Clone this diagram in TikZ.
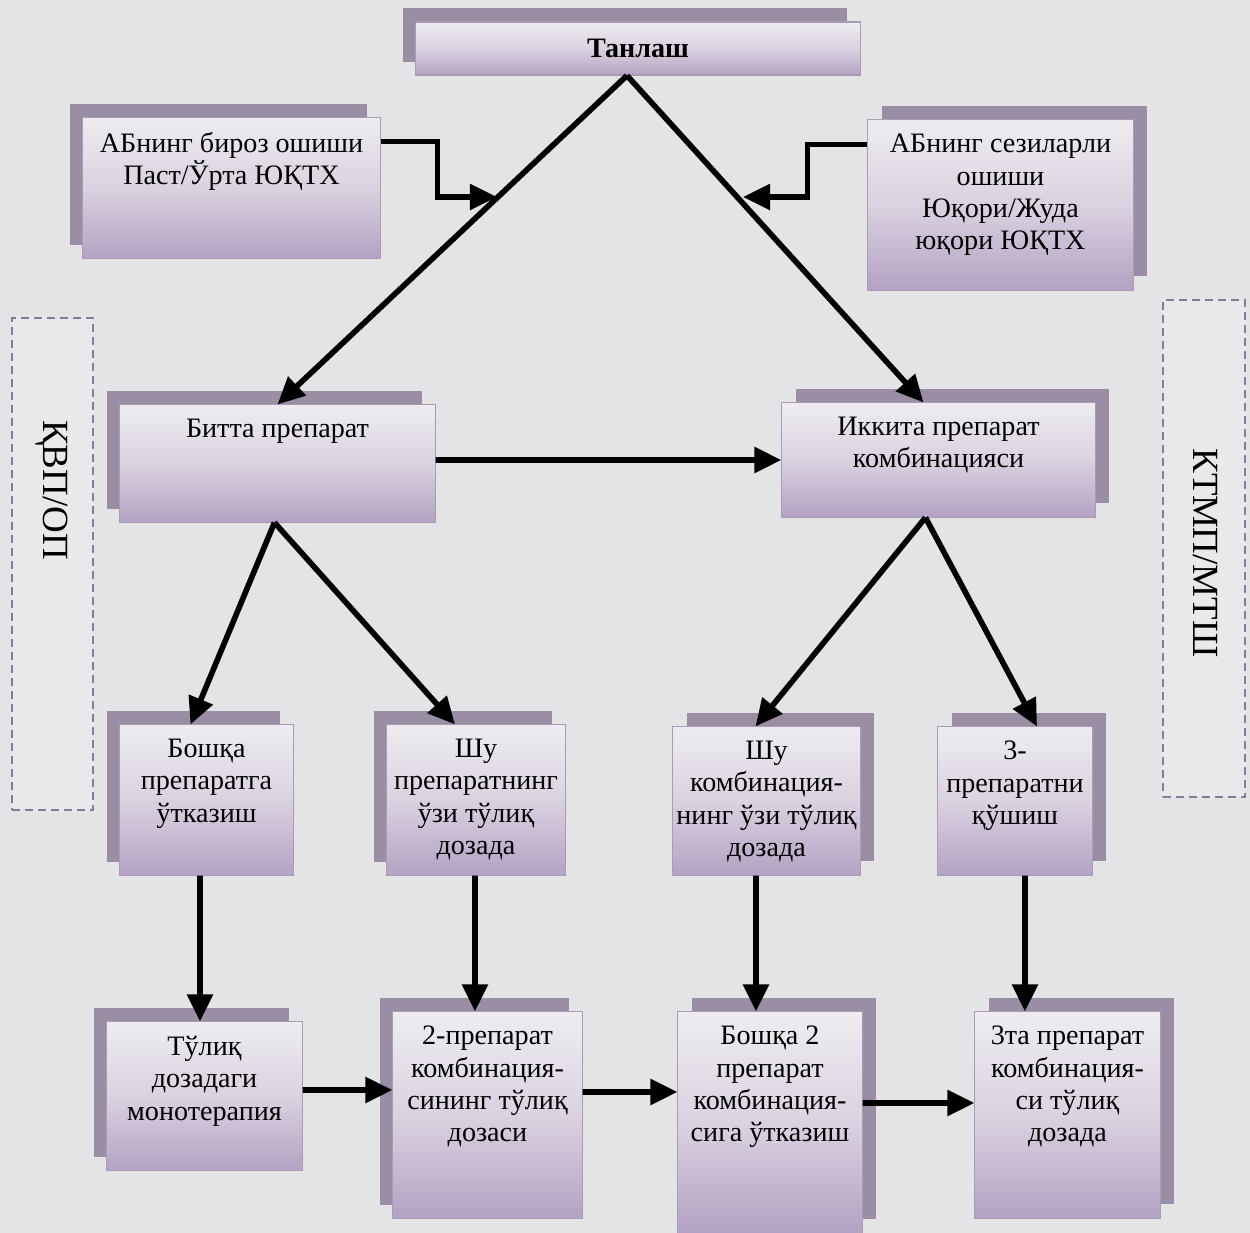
\documentclass[tikz,border=0pt]{standalone}
\usepackage{fontspec}
\setmainfont{Liberation Serif}
\usepackage{xcolor}
\usepackage{tikz}
\usetikzlibrary{positioning,shadows,arrows.meta}

\definecolor{pagebg}{HTML}{E4E4E6}
\definecolor{boxtop}{HTML}{EEECF0}
\definecolor{boxmid}{HTML}{DAD2E0}
\definecolor{boxbot}{HTML}{B3A2C3}
\definecolor{boxedge}{HTML}{A89CB2}
\definecolor{shadc}{HTML}{9A8EA4}
\definecolor{dashc}{HTML}{857B99}
\definecolor{sidefill}{HTML}{E9E9EC}

\begin{document}
\begin{tikzpicture}[x=0.01cm,y=-0.01cm,
    box/.style={rectangle,draw=boxedge,line width=0.3pt,top color=boxtop,bottom color=boxbot,middle color=boxmid,inner sep=0pt},
    lbox/.style={box,general shadow={fill=shadc,shadow xshift=-1.3mm,shadow yshift=1.35mm}},
    rbox/.style={box,general shadow={fill=shadc,shadow xshift=1.4mm,shadow yshift=1.4mm}},
    txt/.style={align=center,inner sep=0pt,font=\fontsize{8}{9.2}\selectfont},
    side/.style={rectangle,draw=dashc,fill=sidefill,dash pattern=on 0.8mm off 0.5mm,line width=0.6pt},
    sidetxt/.style={rotate=-90,inner sep=0pt,font=\fontsize{10.5}{12}\selectfont},
    arr/.style={line width=1.6pt,-{Triangle[length=2.7mm,width=2.5mm]}}]
        \fill[pagebg] (0,0) rectangle (1250,1233);
        \useasboundingbox (0,0) rectangle (1250,1233);

        % side frames
        \node[side,minimum width=0.81cm,minimum height=4.92cm] (kvp) at (52.5,564) {};
        \node[sidetxt] (kvp-t) at (52,490) {ҚВП/ОП};
        \node[side,minimum width=0.82cm,minimum height=4.97cm] (ktmp) at (1204,548.5) {};
        \node[sidetxt] (ktmp-t) at (1205,553) {КТМП/МТШ};

        % boxes
        \node[lbox,minimum width=4.44cm,minimum height=0.53cm,font=\bfseries\fontsize{8}{9.2}\selectfont] (tanlash) at (638,48.5) {Танлаш};
        \node[lbox,minimum width=2.97cm,minimum height=1.40cm] (abl) at (231.5,188) {};
        \node[rbox,minimum width=2.65cm,minimum height=1.70cm] (abr) at (1000.5,205) {};
        \node[lbox,minimum width=3.15cm,minimum height=1.17cm] (bitta) at (277.5,463.5) {};
        \node[rbox,minimum width=3.13cm,minimum height=1.14cm] (ikkita) at (938.5,460) {};
        \node[lbox,minimum width=1.73cm,minimum height=1.50cm] (boshka) at (206.5,800) {};
        \node[lbox,minimum width=1.78cm,minimum height=1.50cm] (shu1) at (476,800) {};
        \node[rbox,minimum width=1.87cm,minimum height=1.48cm] (shu2) at (766.5,801) {};
        \node[rbox,minimum width=1.54cm,minimum height=1.48cm] (uch) at (1015,801) {};
        \node[lbox,minimum width=1.95cm,minimum height=1.48cm] (mono) at (204.5,1096) {};
        \node[lbox,minimum width=1.89cm,minimum height=2.06cm] (ikki2) at (487.5,1115) {};
        \node[rbox,minimum width=1.84cm,minimum height=2.21cm] (boshka2) at (770,1122.5) {};
        \node[rbox,minimum width=1.85cm,minimum height=2.06cm] (uchta) at (1067.5,1115) {};

        % texts
        \node[txt,below=1.4mm of abl.north] (abl-t) {АБнинг бироз ошиши\\Паст/Ўрта ЮҚТХ};
        \node[txt,below=1.4mm of abr.north] (abr-t) {АБнинг сезиларли\\ошиши\\Юқори/Жуда\\юқори ЮҚТХ};
        \node[txt,below=1.4mm of bitta.north] (bitta-t) {Битта препарат};
        \node[txt,below=1.4mm of ikkita.north] (ikkita-t) {Иккита препарат\\комбинацияси};
        \node[txt,below=1.4mm of boshka.north] (boshka-t) {Бошқа\\препаратга\\ўтказиш};
        \node[txt,below=1.4mm of shu1.north] (shu1-t) {Шу\\препаратнинг\\ўзи тўлиқ\\дозада};
        \node[txt,below=1.4mm of shu2.north] (shu2-t) {Шу\\комбинация-\\нинг ўзи тўлиқ\\дозада};
        \node[txt,below=1.4mm of uch.north] (uch-t) {3-\\препаратни\\қўшиш};
        \node[txt,below=1.4mm of mono.north] (mono-t) {Тўлиқ\\дозадаги\\монотерапия};
        \node[txt,below=1.4mm of ikki2.north] (ikki2-t) {2-препарат\\комбинация-\\сининг тўлиқ\\дозаси};
        \node[txt,below=1.4mm of boshka2.north] (boshka2-t) {Бошқа 2\\препарат\\комбинация-\\сига ўтказиш};
        \node[txt,below=1.4mm of uchta.north] (uchta-t) {3та препарат\\комбинация-\\си тўлиқ\\дозада};

        % connectors
        \coordinate (ml) at (497,197);
        \coordinate (mr) at (743,197);
        \draw[arr] ([yshift=-2.4mm]abl.north east) -- ++(57,0) |- (ml);
        \draw[arr] ([yshift=-2.5mm]abr.north west) -- ++(-60,0) |- (mr);
        \path[arr]
          ([xshift=-1.1mm]tanlash.south) edge (bitta.north)
          ([xshift=-1.1mm]tanlash.south) edge ([xshift=-1.5mm]ikkita.north)
          ([yshift=0.35mm]bitta.east) edge (ikkita.west)
          ([xshift=-0.3mm]bitta.south) edge ([xshift=-1.6mm]boshka.north)
          ([xshift=-0.3mm]bitta.south) edge ([xshift=-2.1mm]shu1.north)
          ([xshift=-1.3mm]ikkita.south) edge ([xshift=-1.1mm]shu2.north)
          ([xshift=-1.3mm]ikkita.south) edge ([xshift=2.2mm]uch.north)
          ([xshift=-0.65mm]boshka.south) edge ([xshift=-0.45mm]mono.north)
          ([xshift=-0.1mm]shu1.south) edge ([xshift=-1.25mm]ikki2.north)
          ([xshift=-1.05mm]shu2.south) edge ([xshift=-1.4mm]boshka2.north)
          ([xshift=1mm]uch.south) edge ([xshift=-4.25mm]uchta.north)
          ([yshift=0.6mm]mono.east) edge ([yshift=2.5mm]ikki2.west)
          ([yshift=2.3mm]ikki2.east) edge ([yshift=3.05mm]boshka2.west)
          ([yshift=1.95mm]boshka2.east) edge ([yshift=1.2mm]uchta.west);
      \end{tikzpicture}
\end{document}
